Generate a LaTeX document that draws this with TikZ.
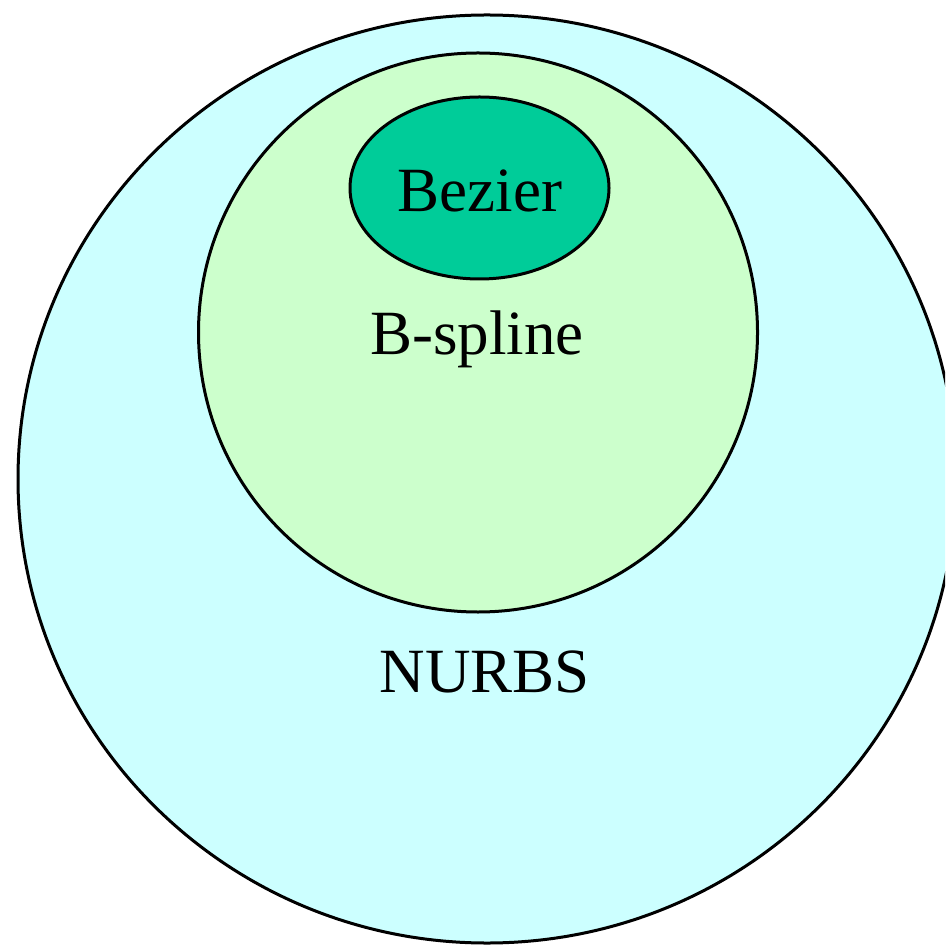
\documentclass[tikz,border=0pt]{standalone}
\usepackage{fontspec}
\setmainfont{Liberation Serif}
\definecolor{nurbsc}{HTML}{CCFFFF}
\definecolor{bsplc}{HTML}{CCFFCC}
\definecolor{bezc}{HTML}{00CC99}
\begin{document}
\begin{tikzpicture}[x=0.5pt,y=-0.5pt,
  region/.style={draw=black,line width=1.5pt},
  lbl/.style={anchor=base,inner sep=0pt,font=\fontsize{31.5pt}{36pt}\selectfont}]
\useasboundingbox (0,0) rectangle (945,945);
\clip (0,0) rectangle (945,945);
\fill[white] (0,0) rectangle (945,945);
\draw[region,fill=nurbsc] (487,479) ellipse [x radius=469,y radius=464];
\draw[region,fill=bsplc] (478,332.5) circle [radius=279.5];
\draw[region,fill=bezc] (479.5,188) ellipse [x radius=129.5,y radius=91];
\node[lbl] (bez) at (480,212) {Bezier};
\node[lbl] (bsp) at (477,355) {B-spline};
\node[lbl] (nurbs) at (485,692) {NURBS};
\end{tikzpicture}
\end{document}
